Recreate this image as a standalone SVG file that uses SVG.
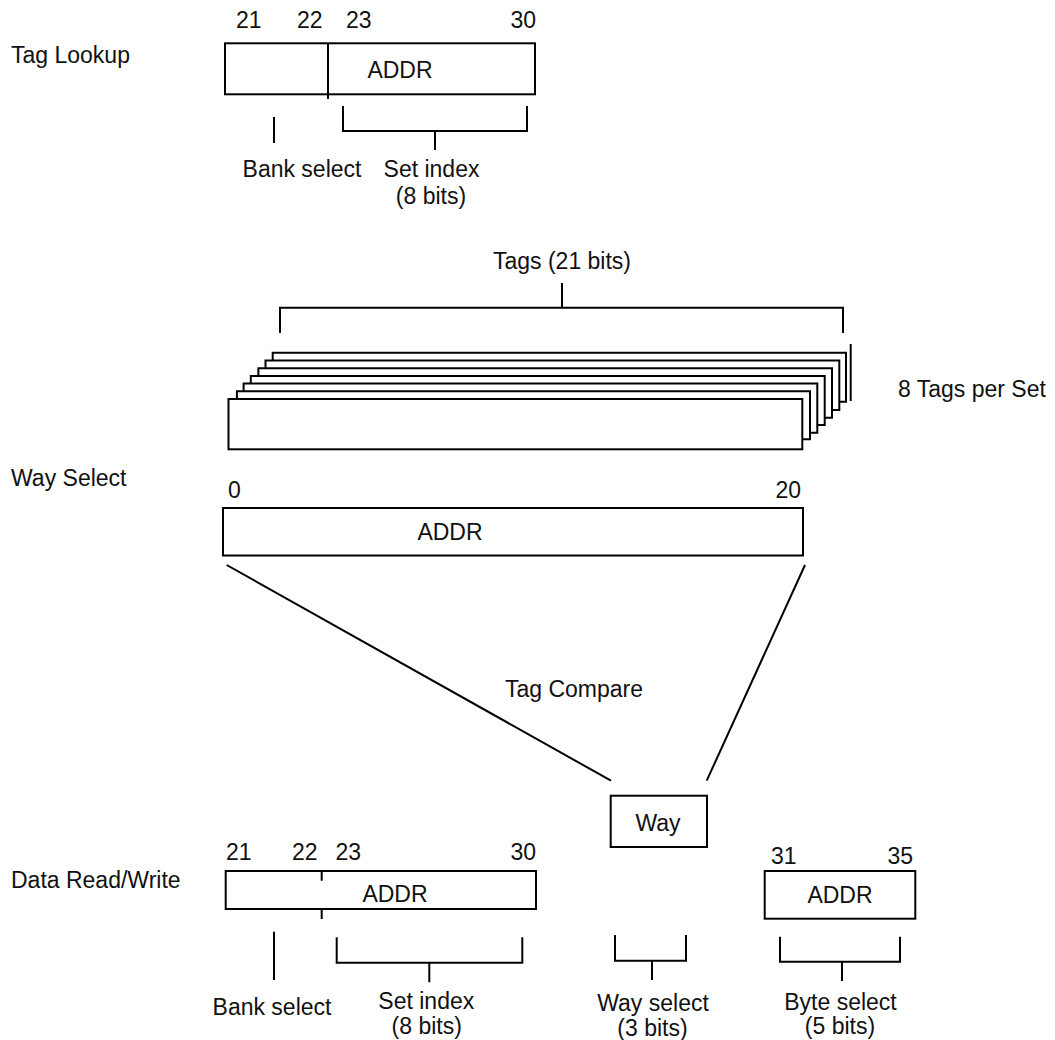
<svg xmlns="http://www.w3.org/2000/svg" width="1055" height="1040" viewBox="0 0 1055 1040">
<style>
text{font-family:"Liberation Sans",Arial,sans-serif;font-size:23px;fill:#111}
.m{text-anchor:middle}
.e{text-anchor:end}
.s{fill:none;stroke:#000;stroke-width:2}
</style>
<rect width="1055" height="1040" fill="#fff"/>
<g id="labels">
<text x="11" y="63">Tag Lookup</text>
<text x="11" y="486">Way Select</text>
<text x="11" y="888">Data Read/Write</text>
<text x="898" y="397">8 Tags per Set</text>
<text class="m" x="574" y="697">Tag Compare</text>
</g>
<g id="tag-lookup-addr">
<rect class="s" x="225" y="43.3" width="310" height="51"/>
<path class="s" d="M328,43 V99"/>
<text x="236" y="28">21</text>
<text x="297" y="28">22</text>
<text x="346" y="28">23</text>
<text class="e" x="536" y="28">30</text>
<text class="m" x="400" y="78">ADDR</text>
</g>
<g id="tag-lookup-fields">
<path class="s" d="M274,117 V143"/>
<path class="s" d="M343,106 V131 H527 V106 M435,131 V150"/>
<text class="m" x="302" y="177">Bank select</text>
<text class="m" x="431.5" y="177">Set index</text>
<text class="m" x="431" y="204">(8 bits)</text>
</g>
<g id="tags-bracket">
<path class="s" d="M280,333 V307.7 H843 V333 M562,307.7 V283"/>
<text class="m" x="562" y="269">Tags (21 bits)</text>
</g>
<g id="tag-stack">
<path class="s" d="M850.7,344 V401"/>
<path class="s" d="M272.7,360.5 V352.8 H846 V401.7 H839.3"/>
<path class="s" d="M265.5,368.2 V360.5 H839.3 V410 H832"/>
<path class="s" d="M258.4,375.9 V368.2 H832 V417.7 H824.7"/>
<path class="s" d="M250.8,383.6 V375.9 H824.7 V425 H817.3"/>
<path class="s" d="M243.6,391.3 V383.6 H817.3 V432.7 H810"/>
<path class="s" d="M236.9,399 V391.3 H810 V439.3 H802.3"/>
<rect class="s" x="228.5" y="399" width="573.8" height="50.3" fill="#fff"/>
</g>
<g id="way-select-addr">
<rect class="s" x="223" y="508" width="580" height="47.5"/>
<text x="228" y="498">0</text>
<text class="e" x="801" y="498">20</text>
<text class="m" x="450" y="540">ADDR</text>
</g>
<g id="connectors">
<path class="s" d="M226.7,565 L611,780.7"/>
<path class="s" d="M805,565 L706.7,780.7"/>
</g>
<g id="way">
<rect class="s" x="610.7" y="795.7" width="96.3" height="51.3"/>
<text class="m" x="658" y="830.7">Way</text>
</g>
<g id="data-addr">
<rect class="s" x="225.7" y="871" width="310.3" height="38"/>
<path class="s" d="M321.7,871 V880.7 M321.7,909 V919"/>
<text x="226" y="860">21</text>
<text x="292" y="860">22</text>
<text x="335.5" y="860">23</text>
<text class="e" x="536" y="860">30</text>
<text class="m" x="395" y="901.7">ADDR</text>
</g>
<g id="data-fields">
<path class="s" d="M274,931.7 V980"/>
<path class="s" d="M336.7,937.3 V962.7 H522.3 V937.3 M429.3,962.7 V982.3"/>
<text class="m" x="272" y="1015">Bank select</text>
<text class="m" x="426.3" y="1009">Set index</text>
<text class="m" x="426.7" y="1034">(8 bits)</text>
</g>
<g id="way-select-field">
<path class="s" d="M615,935 V960.7 H686 V935 M652,960.7 V980"/>
<text class="m" x="653" y="1011">Way select</text>
<text class="m" x="652.5" y="1036">(3 bits)</text>
</g>
<g id="byte-addr">
<rect class="s" x="764.7" y="871" width="150.6" height="47.7"/>
<text x="771" y="864">31</text>
<text class="e" x="913" y="864">35</text>
<text class="m" x="840" y="903.3">ADDR</text>
</g>
<g id="byte-select-field">
<path class="s" d="M780,936.7 V961.7 H900 V936.7 M842,961.7 V981"/>
<text class="m" x="840.5" y="1010">Byte select</text>
<text class="m" x="840" y="1034">(5 bits)</text>
</g>
</svg>
